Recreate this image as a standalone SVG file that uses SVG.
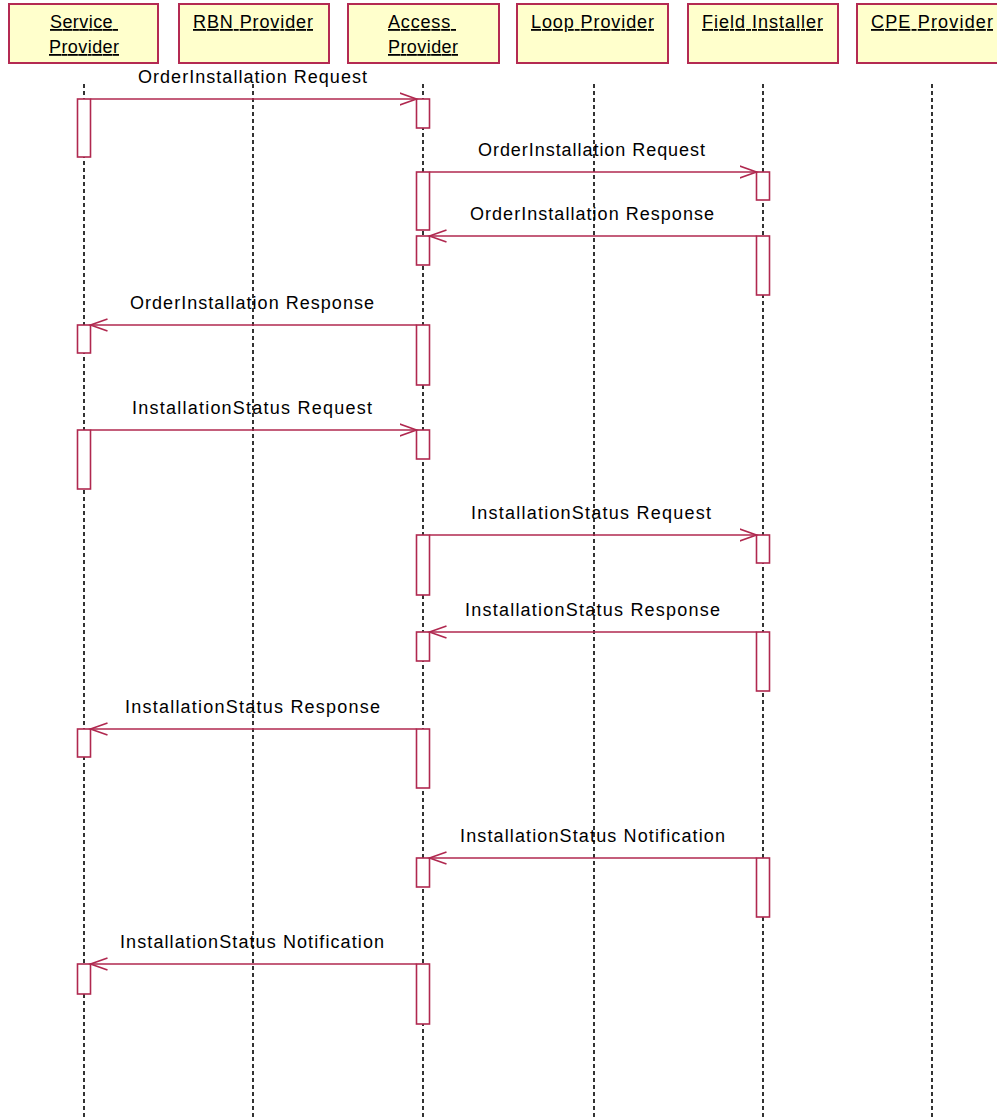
<svg xmlns="http://www.w3.org/2000/svg" width="997" height="1118" viewBox="0 0 997 1118">
<style>
.hdr{fill:#FFFFCC;stroke:#B42A52;stroke-width:2}
.ht{font-family:"Liberation Sans",Arial,sans-serif;font-size:18px;fill:#000;text-decoration:underline;white-space:pre}
.life{stroke:#000;stroke-width:1.6;stroke-dasharray:4 3;fill:none}
.act{fill:#FFFFFF;stroke:#B0284F;stroke-width:1.6}
.msg{stroke:#B0284F;stroke-width:1.6;fill:none;marker-end:url(#open)}
.ml{font-family:"Liberation Sans",Arial,sans-serif;font-size:18px;fill:#000}
</style>
<defs>
<marker id="open" markerUnits="userSpaceOnUse" markerWidth="20" markerHeight="16" refX="17" refY="7" orient="auto">
<path d="M0,1 L17,7 L0,13" fill="none" stroke="#B0284F" stroke-width="1.6"/>
</marker>
</defs>
<rect width="997" height="1118" fill="#FFFFFF"/>

<g id="service-provider">
<rect class="hdr" x="9" y="4" width="149" height="59"/>
<text class="ht" x="50" y="28" textLength="68" lengthAdjust="spacing">Service </text>
<text class="ht" x="49" y="53" textLength="70" lengthAdjust="spacing">Provider</text>
<line class="life" x1="84" y1="84" x2="84" y2="1118"/>
<rect class="act" x="77.5" y="99" width="13" height="58"/>
<rect class="act" x="77.5" y="325" width="13" height="28"/>
<rect class="act" x="77.5" y="430" width="13" height="59"/>
<rect class="act" x="77.5" y="729" width="13" height="28"/>
<rect class="act" x="77.5" y="964" width="13" height="30"/>
</g>

<g id="rbn-provider">
<rect class="hdr" x="179" y="4" width="150" height="59"/>
<text class="ht" x="193" y="28" textLength="120" lengthAdjust="spacing">RBN Provider</text>
<line class="life" x1="253" y1="84" x2="253" y2="1118"/>
</g>

<g id="access-provider">
<rect class="hdr" x="348" y="4" width="151" height="59"/>
<text class="ht" x="388" y="28" textLength="68" lengthAdjust="spacing">Access </text>
<text class="ht" x="388" y="53" textLength="70" lengthAdjust="spacing">Provider</text>
<line class="life" x1="423" y1="84" x2="423" y2="1118"/>
<rect class="act" x="416.5" y="99" width="13" height="29"/>
<rect class="act" x="416.5" y="172" width="13" height="58"/>
<rect class="act" x="416.5" y="236" width="13" height="29"/>
<rect class="act" x="416.5" y="325" width="13" height="60"/>
<rect class="act" x="416.5" y="430" width="13" height="29"/>
<rect class="act" x="416.5" y="535" width="13" height="60"/>
<rect class="act" x="416.5" y="632" width="13" height="29"/>
<rect class="act" x="416.5" y="729" width="13" height="59"/>
<rect class="act" x="416.5" y="858" width="13" height="29"/>
<rect class="act" x="416.5" y="964" width="13" height="60"/>
</g>

<g id="loop-provider">
<rect class="hdr" x="517" y="4" width="151" height="59"/>
<text class="ht" x="531" y="28" textLength="123" lengthAdjust="spacing">Loop Provider</text>
<line class="life" x1="594" y1="84" x2="594" y2="1118"/>
</g>

<g id="field-installer">
<rect class="hdr" x="688" y="4" width="150" height="59"/>
<text class="ht" x="702" y="28" textLength="121" lengthAdjust="spacing">Field Installer</text>
<line class="life" x1="763" y1="84" x2="763" y2="1118"/>
<rect class="act" x="756.5" y="172" width="13" height="28"/>
<rect class="act" x="756.5" y="236" width="13" height="59"/>
<rect class="act" x="756.5" y="535" width="13" height="28"/>
<rect class="act" x="756.5" y="632" width="13" height="59"/>
<rect class="act" x="756.5" y="858" width="13" height="59"/>
</g>

<g id="cpe-provider">
<rect class="hdr" x="857" y="4" width="150" height="59"/>
<text class="ht" x="871" y="28" textLength="122" lengthAdjust="spacing">CPE Provider</text>
<line class="life" x1="932" y1="84" x2="932" y2="1118"/>
</g>

<g id="connectors">
<line class="msg" x1="90.5" y1="99" x2="416.5" y2="99"/>
<text class="ml" x="138" y="83" textLength="229" lengthAdjust="spacing">OrderInstallation Request</text>
<line class="msg" x1="429.5" y1="172" x2="756.5" y2="172"/>
<text class="ml" x="478" y="156" textLength="227" lengthAdjust="spacing">OrderInstallation Request</text>
<line class="msg" x1="756.5" y1="236" x2="429.5" y2="236"/>
<text class="ml" x="470" y="220" textLength="244" lengthAdjust="spacing">OrderInstallation Response</text>
<line class="msg" x1="416.5" y1="325" x2="90.5" y2="325"/>
<text class="ml" x="130" y="309" textLength="244" lengthAdjust="spacing">OrderInstallation Response</text>
<line class="msg" x1="90.5" y1="430" x2="416.5" y2="430"/>
<text class="ml" x="132" y="414" textLength="240" lengthAdjust="spacing">InstallationStatus Request</text>
<line class="msg" x1="429.5" y1="535" x2="756.5" y2="535"/>
<text class="ml" x="471" y="519" textLength="240" lengthAdjust="spacing">InstallationStatus Request</text>
<line class="msg" x1="756.5" y1="632" x2="429.5" y2="632"/>
<text class="ml" x="465" y="616" textLength="255" lengthAdjust="spacing">InstallationStatus Response</text>
<line class="msg" x1="416.5" y1="729" x2="90.5" y2="729"/>
<text class="ml" x="125" y="713" textLength="255" lengthAdjust="spacing">InstallationStatus Response</text>
<line class="msg" x1="756.5" y1="858" x2="429.5" y2="858"/>
<text class="ml" x="460" y="842" textLength="265" lengthAdjust="spacing">InstallationStatus Notification</text>
<line class="msg" x1="416.5" y1="964" x2="90.5" y2="964"/>
<text class="ml" x="120" y="948" textLength="264" lengthAdjust="spacing">InstallationStatus Notification</text>
</g>
</svg>
